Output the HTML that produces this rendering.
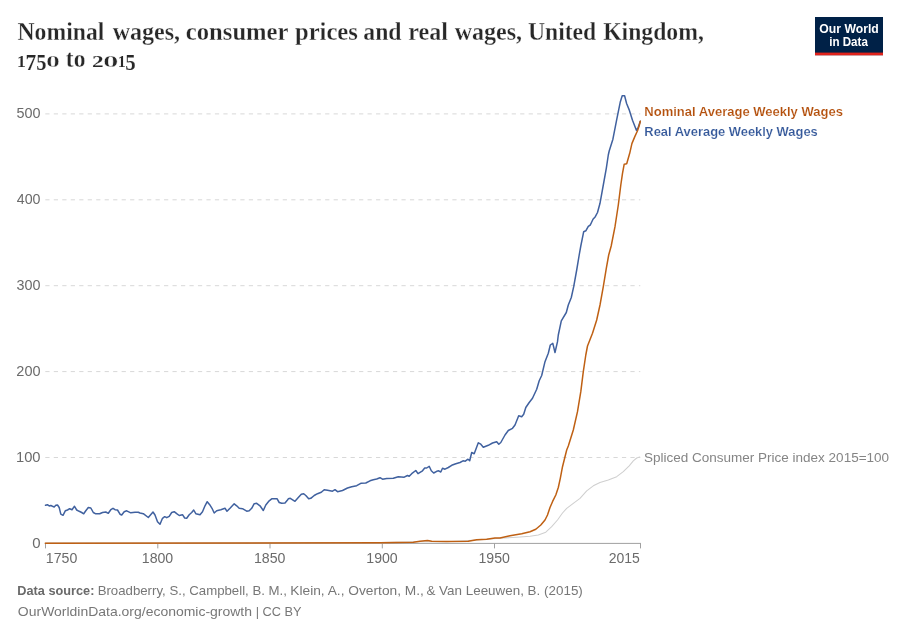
<!DOCTYPE html>
<html lang="en"><head><meta charset="utf-8"><title>Nominal wages, consumer prices and real wages, United Kingdom, 1750 to 2015</title>
<style>
html,body{margin:0;padding:0;background:#fff;}
body{width:900px;height:636px;overflow:hidden;}
svg{display:block;}
</style></head><body>
<svg width="900" height="636" viewBox="0 0 900 636">
<rect width="900" height="636" fill="#fff"/>
<g id="title">
<text font-family='"Liberation Serif",serif' font-weight="bold" fill="#282828" stroke="#ffffff" stroke-width="0.3"><tspan x="17.53" y="39.5" font-size="25.0" textLength="86.78" lengthAdjust="spacingAndGlyphs">Nominal</tspan> <tspan x="112.70" y="39.5" font-size="25.0" textLength="67.45" lengthAdjust="spacingAndGlyphs">wages,</tspan> <tspan x="185.84" y="39.5" font-size="25.0" textLength="102.68" lengthAdjust="spacingAndGlyphs">consumer</tspan> <tspan x="294.95" y="39.5" font-size="25.0" textLength="62.95" lengthAdjust="spacingAndGlyphs">prices</tspan> <tspan x="363.29" y="39.5" font-size="25.0" textLength="38.31" lengthAdjust="spacingAndGlyphs">and</tspan> <tspan x="408.20" y="39.5" font-size="25.0" textLength="39.72" lengthAdjust="spacingAndGlyphs">real</tspan> <tspan x="454.70" y="39.5" font-size="25.0" textLength="67.45" lengthAdjust="spacingAndGlyphs">wages,</tspan> <tspan x="527.91" y="39.5" font-size="25.0" textLength="68.31" lengthAdjust="spacingAndGlyphs">United</tspan> <tspan x="603.14" y="39.5" font-size="25.0" textLength="100.71" lengthAdjust="spacingAndGlyphs">Kingdom,</tspan></text>
<text font-family='"Liberation Serif",serif' font-weight="bold" fill="#282828" stroke="#ffffff" stroke-width="0.3"><tspan x="17.09" y="66.5" font-size="17.6" textLength="8.78" lengthAdjust="spacingAndGlyphs" stroke-width="0.1">1</tspan><tspan x="25.52" y="70.3" font-size="23.2" textLength="10.71" lengthAdjust="spacingAndGlyphs" stroke-width="0.15">7</tspan><tspan x="36.18" y="70.3" font-size="23.2" textLength="10.24" lengthAdjust="spacingAndGlyphs" stroke-width="0.15">5</tspan><tspan x="46.02" y="66.5" font-size="17.6" textLength="13.95" lengthAdjust="spacingAndGlyphs" stroke-width="0.4">0</tspan> <tspan x="65.85" y="66.5" font-size="25.0" textLength="19.53" lengthAdjust="spacingAndGlyphs">to</tspan> <tspan x="91.97" y="66.5" font-size="17.6" textLength="11.67" lengthAdjust="spacingAndGlyphs" stroke-width="0.1">2</tspan><tspan x="102.92" y="66.5" font-size="17.6" textLength="15.47" lengthAdjust="spacingAndGlyphs" stroke-width="0.4">0</tspan><tspan x="118.09" y="66.5" font-size="17.6" textLength="7.57" lengthAdjust="spacingAndGlyphs" stroke-width="0.1">1</tspan><tspan x="125.36" y="70.3" font-size="23.2" textLength="10.47" lengthAdjust="spacingAndGlyphs" stroke-width="0.15">5</tspan></text>
</g>
<g id="logo">
<rect x="815" y="17" width="68" height="38.2" fill="#002147"/>
<rect x="815" y="52.6" width="68" height="2.7" fill="#e0231b"/>
<text x="819.31" y="33.0" font-family='"Liberation Sans",sans-serif' font-weight="bold" font-size="12.2" fill="#ffffff" textLength="59.48" lengthAdjust="spacingAndGlyphs">Our World</text>
<text x="829.19" y="45.9" font-family='"Liberation Sans",sans-serif' font-weight="bold" font-size="12.2" fill="#ffffff" textLength="38.69" lengthAdjust="spacingAndGlyphs">in Data</text>
</g>
<g id="grid">
<line x1="45.3" y1="457.5" x2="640.3" y2="457.5" stroke="#d8d8d8" stroke-width="1" stroke-dasharray="4.24,4.24"/>
<line x1="45.3" y1="371.6" x2="640.3" y2="371.6" stroke="#d8d8d8" stroke-width="1" stroke-dasharray="4.24,4.24"/>
<line x1="45.3" y1="285.7" x2="640.3" y2="285.7" stroke="#d8d8d8" stroke-width="1" stroke-dasharray="4.24,4.24"/>
<line x1="45.3" y1="199.8" x2="640.3" y2="199.8" stroke="#d8d8d8" stroke-width="1" stroke-dasharray="4.24,4.24"/>
<line x1="45.3" y1="113.9" x2="640.3" y2="113.9" stroke="#d8d8d8" stroke-width="1" stroke-dasharray="4.24,4.24"/>
</g>
<line x1="45.0" y1="543.4" x2="641.0" y2="543.4" stroke="#a0a0a0" stroke-width="1"/>
<g id="xaxis">
<line x1="45.5" y1="543.4" x2="45.5" y2="548.4" stroke="#a0a0a0" stroke-width="1"/>
<text x="45.84" y="562.5" font-family='"Liberation Sans",sans-serif' font-weight="normal" font-size="13.9" fill="#6b6b6b" textLength="31.45" lengthAdjust="spacingAndGlyphs">1750</text>
<line x1="157.8" y1="543.4" x2="157.8" y2="548.4" stroke="#a0a0a0" stroke-width="1"/>
<text x="141.79" y="562.5" font-family='"Liberation Sans",sans-serif' font-weight="normal" font-size="13.9" fill="#6b6b6b" textLength="31.45" lengthAdjust="spacingAndGlyphs">1800</text>
<line x1="270.0" y1="543.4" x2="270.0" y2="548.4" stroke="#a0a0a0" stroke-width="1"/>
<text x="253.99" y="562.5" font-family='"Liberation Sans",sans-serif' font-weight="normal" font-size="13.9" fill="#6b6b6b" textLength="31.45" lengthAdjust="spacingAndGlyphs">1850</text>
<line x1="382.3" y1="543.4" x2="382.3" y2="548.4" stroke="#a0a0a0" stroke-width="1"/>
<text x="366.29" y="562.5" font-family='"Liberation Sans",sans-serif' font-weight="normal" font-size="13.9" fill="#6b6b6b" textLength="31.45" lengthAdjust="spacingAndGlyphs">1900</text>
<line x1="494.5" y1="543.4" x2="494.5" y2="548.4" stroke="#a0a0a0" stroke-width="1"/>
<text x="478.49" y="562.5" font-family='"Liberation Sans",sans-serif' font-weight="normal" font-size="13.9" fill="#6b6b6b" textLength="31.45" lengthAdjust="spacingAndGlyphs">1950</text>
<line x1="640.5" y1="543.4" x2="640.5" y2="548.4" stroke="#a0a0a0" stroke-width="1"/>
<text x="608.70" y="562.5" font-family='"Liberation Sans",sans-serif' font-weight="normal" font-size="13.9" fill="#6b6b6b" textLength="31.16" lengthAdjust="spacingAndGlyphs">2015</text>
</g>
<g id="yaxis">
<text x="32.20" y="547.5" font-family='"Liberation Sans",sans-serif' font-weight="normal" font-size="13.9" fill="#6b6b6b" textLength="8.34" lengthAdjust="spacingAndGlyphs">0</text>
<text x="16.00" y="461.6" font-family='"Liberation Sans",sans-serif' font-weight="normal" font-size="13.9" fill="#6b6b6b" textLength="24.57" lengthAdjust="spacingAndGlyphs">100</text>
<text x="16.38" y="375.7" font-family='"Liberation Sans",sans-serif' font-weight="normal" font-size="13.9" fill="#6b6b6b" textLength="24.18" lengthAdjust="spacingAndGlyphs">200</text>
<text x="16.60" y="289.8" font-family='"Liberation Sans",sans-serif' font-weight="normal" font-size="13.9" fill="#6b6b6b" textLength="23.96" lengthAdjust="spacingAndGlyphs">300</text>
<text x="16.82" y="203.9" font-family='"Liberation Sans",sans-serif' font-weight="normal" font-size="13.9" fill="#6b6b6b" textLength="23.73" lengthAdjust="spacingAndGlyphs">400</text>
<text x="16.52" y="118.0" font-family='"Liberation Sans",sans-serif' font-weight="normal" font-size="13.9" fill="#6b6b6b" textLength="24.03" lengthAdjust="spacingAndGlyphs">500</text>
</g>
<polyline points="45.8,543.0 380.0,542.6 420.0,541.8 446.7,541.7 476.7,540.0 500.0,538.3 516.7,537.2 530.0,536.2 538.3,535.0 545.8,532.2 551.7,526.7 557.5,520.0 562.5,513.0 566.7,508.3 573.3,503.3 580.0,498.3 586.7,490.8 593.3,485.8 600.0,482.5 608.3,480.0 616.7,476.7 623.3,471.7 629.2,465.8 633.3,460.8 636.7,458.0 639.7,457.0" fill="none" stroke="#cfcfcf" stroke-width="1.05" stroke-linejoin="round" stroke-linecap="round"/>
<polyline points="45.5,505.3 47.5,504.7 49.2,506.0 50.8,505.5 52.5,506.3 54.2,507.0 55.8,505.3 57.5,505.0 59.2,507.5 60.8,514.2 63.0,515.3 65.3,510.8 67.5,510.0 69.7,508.7 72.0,509.7 74.5,506.3 76.7,510.0 79.2,511.3 81.7,512.5 83.7,513.8 85.8,510.8 88.3,507.5 90.8,508.0 93.3,512.5 95.8,513.8 99.7,513.8 102.5,512.5 105.8,512.0 108.3,513.3 110.8,509.7 113.0,508.3 115.0,509.7 117.5,510.0 120.0,514.2 121.7,515.0 124.2,511.7 126.7,510.8 130.8,512.8 135.0,512.2 138.3,512.2 140.0,513.0 143.3,513.7 148.3,517.5 153.0,512.0 155.0,515.0 157.5,521.7 160.0,524.2 162.5,518.3 164.7,516.7 166.7,517.7 169.2,516.3 171.7,512.5 174.2,511.7 176.7,513.7 179.2,515.5 182.5,514.7 184.7,518.0 186.7,518.3 189.2,514.7 191.7,512.5 193.7,510.0 195.8,513.7 200.0,514.7 202.5,511.7 205.0,505.8 207.2,501.7 209.7,504.7 212.0,508.3 214.2,513.0 216.7,510.8 220.8,509.7 225.0,508.3 227.0,511.2 230.0,508.3 234.2,503.8 236.7,505.8 239.2,508.3 242.5,508.7 246.7,511.2 249.2,510.8 251.7,508.3 254.2,503.7 256.7,503.3 260.0,505.8 263.3,510.5 265.8,505.0 269.2,500.8 271.7,498.8 274.2,498.7 277.0,498.7 279.2,502.5 281.7,503.3 285.0,503.0 287.5,500.0 288.3,498.8 290.3,498.3 295.0,501.3 298.3,497.5 301.3,494.2 303.7,493.7 305.8,495.5 308.7,498.8 310.8,498.3 314.2,495.5 317.5,493.7 321.3,492.3 324.2,489.7 327.5,490.3 332.5,491.2 335.0,489.7 337.5,491.7 342.5,490.5 347.5,488.0 351.7,486.7 356.7,485.7 360.8,483.3 365.8,483.0 370.0,480.8 373.3,479.7 376.7,479.0 380.0,477.7 382.5,479.2 386.7,478.5 393.3,478.3 398.3,476.7 404.2,477.2 407.5,475.5 409.2,476.3 411.7,473.7 415.8,470.5 418.0,473.7 422.5,470.8 424.7,468.0 426.7,468.0 429.2,466.3 431.3,470.8 433.7,473.0 436.7,471.3 438.7,470.8 440.8,472.0 442.5,468.3 445.0,469.2 448.3,467.5 451.7,465.3 455.8,463.8 460.0,462.5 463.0,460.8 465.3,461.2 468.0,459.2 469.7,460.8 471.7,452.5 474.2,453.7 478.3,442.8 480.8,444.2 483.3,447.2 488.3,445.3 492.5,443.0 496.7,441.7 498.8,444.2 500.8,442.5 505.0,435.0 508.3,430.5 512.5,428.3 515.0,425.0 518.7,415.8 521.7,416.7 523.7,414.2 525.8,407.5 529.2,402.5 532.5,398.3 536.7,389.2 539.2,380.8 541.7,375.5 545.0,361.7 548.3,353.3 550.3,345.0 552.8,343.3 555.0,352.5 557.5,341.7 558.3,335.0 561.3,320.8 566.3,312.5 568.3,305.0 571.3,297.5 573.7,286.7 576.7,270.0 579.2,255.0 580.8,246.0 583.7,231.7 585.8,230.8 588.3,226.3 590.3,225.0 593.0,219.2 595.3,216.7 597.5,212.5 600.0,203.3 603.3,185.0 606.3,168.3 608.3,155.0 609.2,151.0 612.9,139.2 616.8,119.1 620.2,102.3 622.2,95.8 624.6,95.8 626.6,103.5 629.1,109.6 632.5,120.2 636.4,130.2 638.0,128.0 640.3,121.3" fill="none" stroke="#40619f" stroke-width="1.5" stroke-linejoin="round" stroke-linecap="round"/>
<polyline points="45.3,543.2 380.0,542.7 413.3,542.3 420.0,541.3 427.5,540.5 431.7,541.3 446.7,541.5 468.3,541.2 476.7,539.7 486.7,539.2 495.0,538.0 500.0,538.0 510.0,535.8 521.7,533.8 530.0,531.7 535.8,529.2 540.8,525.0 545.0,520.0 547.5,515.0 550.0,507.5 552.5,501.7 555.8,495.0 558.3,487.5 560.3,478.3 562.5,466.7 565.0,456.7 566.7,450.0 568.3,446.0 573.3,430.0 577.5,411.7 580.8,391.7 583.3,371.7 585.8,355.0 587.5,346.0 592.5,333.3 596.7,320.0 600.0,305.0 603.3,286.7 606.3,268.3 608.7,255.0 611.2,246.0 615.0,226.7 618.3,205.0 620.8,185.0 622.5,173.3 624.2,164.2 626.7,163.8 629.7,153.3 631.9,143.6 634.7,136.9 637.5,130.8 639.2,125.8 640.3,121.3" fill="none" stroke="#bf6013" stroke-width="1.5" stroke-linejoin="round" stroke-linecap="round"/>
<g id="labels">
<text x="644.35" y="116.3" font-family='"Liberation Sans",sans-serif' font-weight="bold" font-size="13.4" fill="#b4500c" textLength="198.57" lengthAdjust="spacingAndGlyphs" stroke="#ffffff" stroke-width="0.16">Nominal Average Weekly Wages</text>
<text x="644.36" y="135.5" font-family='"Liberation Sans",sans-serif' font-weight="bold" font-size="13.4" fill="#34589a" textLength="173.39" lengthAdjust="spacingAndGlyphs" stroke="#ffffff" stroke-width="0.16">Real Average Weekly Wages</text>
<text x="643.99" y="462.4" font-family='"Liberation Sans",sans-serif' font-weight="normal" font-size="13.4" fill="#858585" textLength="245.09" lengthAdjust="spacingAndGlyphs">Spliced Consumer Price index 2015=100</text>
</g>
<g id="footer">
<text font-family='"Liberation Sans",sans-serif' font-weight="normal" fill="#777777"><tspan x="17.37" y="594.7" font-size="13.4" textLength="77.01" lengthAdjust="spacingAndGlyphs" font-weight="bold" fill="#6a6a6a">Data source:</tspan> <tspan x="97.64" y="594.7" font-size="13.4" textLength="189.35" lengthAdjust="spacingAndGlyphs">Broadberry, S., Campbell, B. M.,</tspan> <tspan x="290.30" y="594.7" font-size="13.4" textLength="133.58" lengthAdjust="spacingAndGlyphs">Klein, A., Overton, M.,</tspan> <tspan x="426.43" y="594.7" font-size="13.4" textLength="156.39" lengthAdjust="spacingAndGlyphs">&amp; Van Leeuwen, B. (2015)</tspan></text>
<text font-family='"Liberation Sans",sans-serif' font-weight="normal" fill="#777777"><tspan x="17.87" y="616.2" font-size="13.2" textLength="234.09" lengthAdjust="spacingAndGlyphs">OurWorldinData.org/economic-growth</tspan> <tspan x="255.75" y="616.2" font-size="13.2" textLength="45.85" lengthAdjust="spacingAndGlyphs">| CC BY</tspan></text>
</g>
</svg>
</body></html>
